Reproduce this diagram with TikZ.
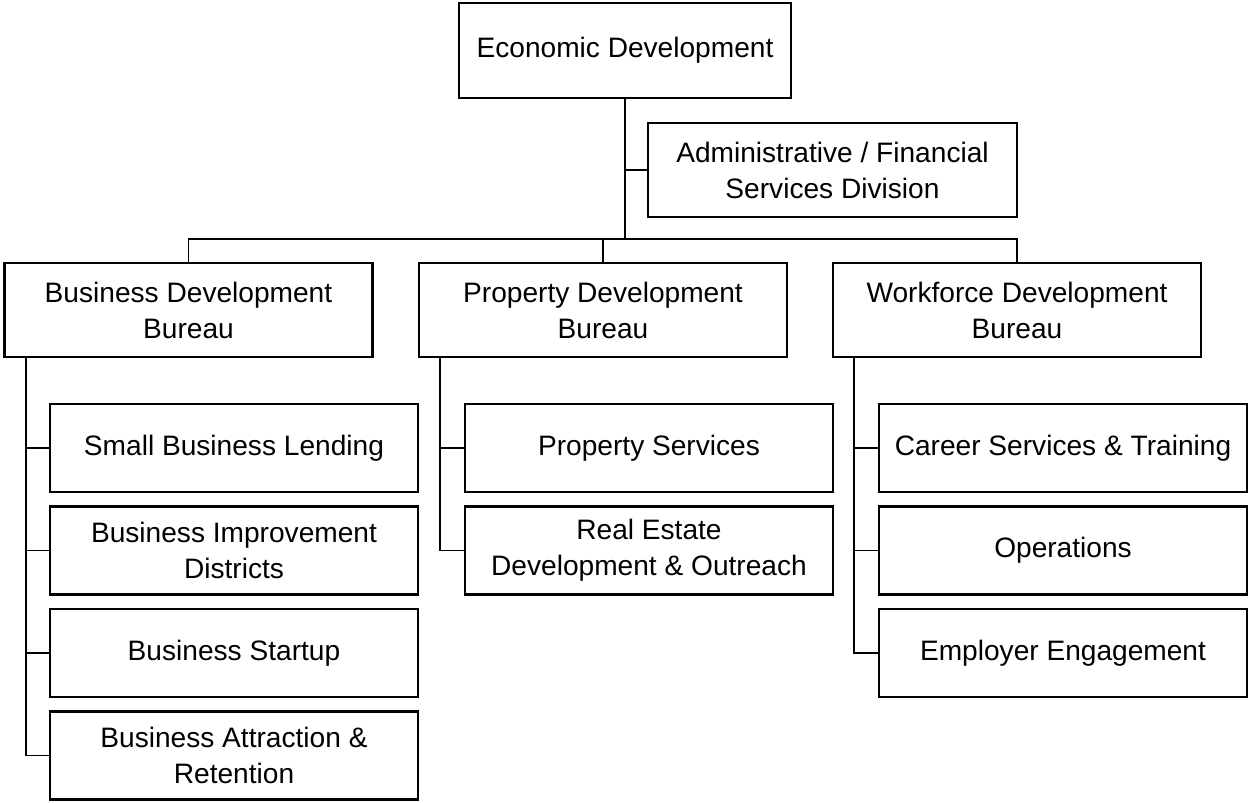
\documentclass[tikz,border=0pt]{standalone}
\usepackage{fontspec}
\setmainfont{Liberation Sans}

\begin{document}
\begin{tikzpicture}[x=0.02cm, y=-0.02cm,
  box/.style={draw, line width=1.3pt, align=center, inner sep=0pt,
    minimum width=7.36cm, minimum height=1.88cm,
    font=\fontsize{16}{20.5}\selectfont},
  sub/.style={box, minimum height=1.76cm},
  link/.style={-, line width=1.1pt}]

\useasboundingbox (0,0) rectangle (1248,802);

% head and staff office
\node[box, minimum width=6.64cm, minimum height=1.9cm] (econ) at (625,50.5) {Economic Development};
\node[box, minimum width=7.38cm] (admin) at (832.5,170) {Administrative / Financial\\Services Division};
\coordinate (hub) at (625,239);

% bureaus
\node[box] (bdb) at (188.5,310) {Business Development\\Bureau};
\node[box] (pdb) at (603,310) {Property Development\\Bureau};
\node[box] (wdb) at (1017,310) {Workforce Development\\Bureau};

% units under each bureau
\node[sub] (sbl) at (234,448) {Small Business Lending};
\node[sub] (bid) at (234,550.5) {Business Improvement\\Districts};
\node[sub] (bst) at (234,653) {Business Startup};
\node[sub] (bar) at (234,755.5) {Business Attraction \&\\Retention};

\node[sub] (ps) at (649,448) {Property Services};
\node[sub] (red) at (649,550.5) {Real Estate\\Development \& Outreach};

\node[sub] (cst) at (1063,448) {Career Services \& Training};
\node[sub] (ops) at (1063,550.5) {Operations};
\node[sub] (eng) at (1063,653) {Employer Engagement};

% trunk
\draw[link] (econ.south) -- (hub);
\draw[link] (econ.south |- admin.west) -- (admin.west);
\draw[link] (bdb.north) |- (hub) -| (wdb.north);
\draw[link] (pdb.north) -- (pdb.north |- hub);

% branches
\draw[link] (bdb.south west) ++(22.5,0) |- (bar.west);
\draw[link] (bdb.south west) ++(22.5,0) |- (sbl.west);
\draw[link] (bdb.south west) ++(22.5,0) |- (bid.west);
\draw[link] (bdb.south west) ++(22.5,0) |- (bst.west);

\draw[link] (pdb.south west) ++(22.5,0) |- (red.west);
\draw[link] (pdb.south west) ++(22.5,0) |- (ps.west);

\draw[link] (wdb.south west) ++(22.5,0) |- (eng.west);
\draw[link] (wdb.south west) ++(22.5,0) |- (cst.west);
\draw[link] (wdb.south west) ++(22.5,0) |- (ops.west);
\end{tikzpicture}
\end{document}
